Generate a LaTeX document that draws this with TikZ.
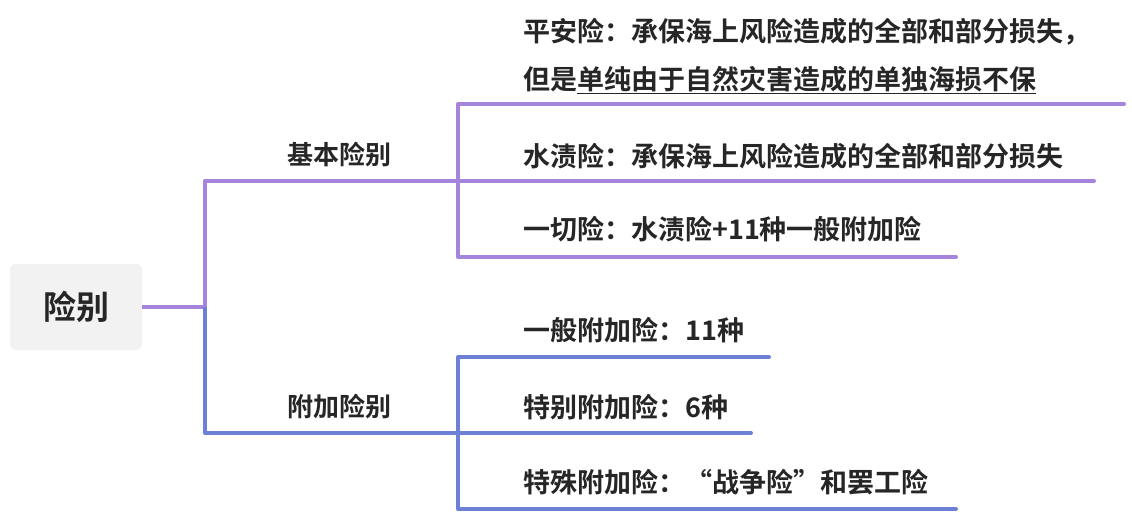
\documentclass[tikz,border=0pt]{standalone}
\usepackage{fontspec}
\setmainfont{Noto Sans CJK SC}[BoldFont={* Bold}]
\definecolor{pu}{HTML}{A585DC}
\definecolor{bl}{HTML}{6C80D6}
\definecolor{tx}{HTML}{262626}
\begin{document}
\begin{tikzpicture}[x=1pt,y=-1pt,
  pl/.style={line width=4pt,pu},
  bll/.style={line width=4pt,bl},
  leaf/.style={anchor=west,inner sep=0,font=\bfseries\fontsize{27}{40}\selectfont,text=tx},
  mid/.style={anchor=center,inner sep=0,font=\bfseries\fontsize{26}{30}\selectfont,text=tx}]
\useasboundingbox (0,0) rectangle (1132,512);
\node[fill=black!5,rounded corners=5pt,minimum width=132pt,minimum height=86pt,inner sep=0,font=\bfseries\fontsize{33}{36}\selectfont,text=tx] (root) at (76,307) {险别};
\coordinate (j) at (205,307);
\node[mid] (b1) at (339,155) {基本险别};
\node[mid] (b2) at (339,407) {附加险别};
\node[leaf] (l1) at (523,32) {平安险：承保海上风险造成的全部和部分损失，};
\node[leaf] (l1b) at (523,80) {但是\underline{单纯由于自然灾害造成的单独海损不保}};
\node[leaf] (l2) at (523,156) {水渍险：承保海上风险造成的全部和部分损失};
\node[leaf] (l3) at (523,229) {一切险：水渍险+11种一般附加险};
\node[leaf] (l4) at (523,330) {一般附加险：11种};
\node[leaf] (l5) at (523,407) {特别附加险：6种};
\node[leaf] (l6) at (523,482) {特殊附加险：“战争险”和罢工险};
\draw[pl,line join=round] (root.east) -- (j) -- (205,181) -- (458,181);
\draw[pl] (458,104) -- (458,257);
\draw[pl,line cap=round] (458,104) -- (1124,104);
\draw[pl,line cap=round] (458,181) -- (1094,181);
\draw[pl,line cap=round] (458,257) -- (956,257);
\draw[bll,line join=round] (j) -- (205,433) -- (458,433);
\draw[bll] (458,357) -- (458,509);
\draw[bll,line cap=round] (458,357) -- (769,357);
\draw[bll,line cap=round] (458,433) -- (751,433);
\draw[bll,line cap=round] (458,509) -- (956,509);
\end{tikzpicture}
\end{document}
